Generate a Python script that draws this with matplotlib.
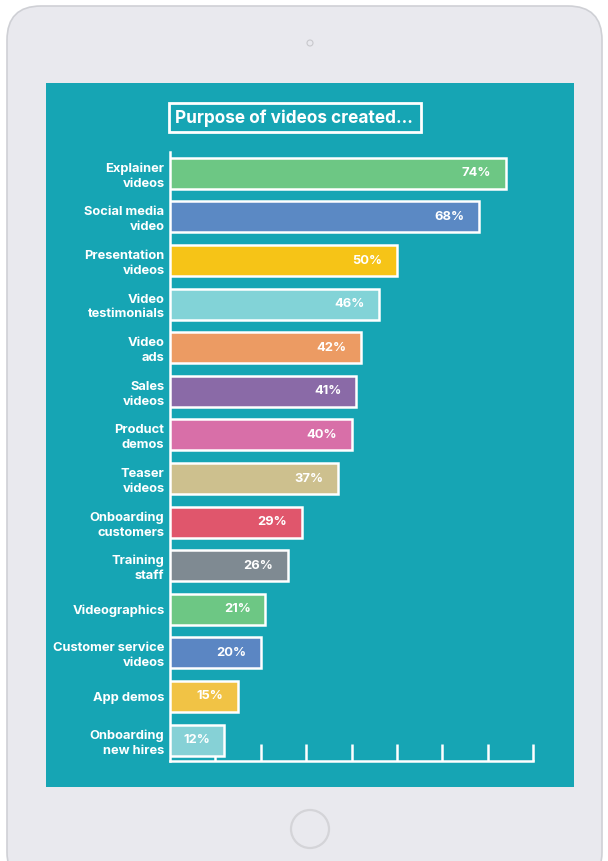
import matplotlib.pyplot as plt
from matplotlib.patches import FancyBboxPatch, Rectangle, Circle

# survey data: share of respondents per video purpose
purposes = ['Explainer\nvideos', 'Social media\nvideo', 'Presentation\nvideos', 'Video\ntestimonials',
            'Video\nads', 'Sales\nvideos', 'Product\ndemos', 'Teaser\nvideos', 'Onboarding\ncustomers',
            'Training\nstaff', 'Videographics', 'Customer service\nvideos', 'App demos', 'Onboarding\nnew hires']
shares = [74, 68, 50, 46, 42, 41, 40, 37, 29, 26, 21, 20, 15, 12]
bar_colors = ['#6dc784', '#5b89c4', '#f6c417', '#82d3d7', '#ec9b63', '#8a6aa7', '#d86fa8',
              '#cdc08e', '#e0566c', '#7f8a92', '#6dc784', '#5b86c3', '#f1c345', '#86d1d6']
x_ticks = [10, 20, 30, 40, 50, 60, 70, 80]

W, H = 608, 861
TEAL = '#16a5b4'
BODY = '#e9e9ee'
FONT = 'Inter'

fig = plt.figure(figsize=(W / 100, H / 100), dpi=100)
fig.patch.set_facecolor('white')

# tablet frame drawn in pixel coordinates
bg = fig.add_axes([0, 0, 1, 1])
bg.set_xlim(0, W)
bg.set_ylim(H, 0)
bg.axis('off')
bg.add_patch(FancyBboxPatch((7, 6), 595, 880, boxstyle='round,pad=0,rounding_size=34',
                            facecolor=BODY, edgecolor='#cfd0d5', linewidth=1.2))
bg.add_patch(Rectangle((46, 83), 528, 704, facecolor=TEAL, edgecolor='none'))
bg.add_patch(Circle((310, 43), 3, facecolor='none', edgecolor='#c8c8cc', linewidth=0.8))
bg.add_patch(Circle((310, 829), 19, facecolor='none', edgecolor='#d4d4d8', linewidth=1.6))

# title box
bg.add_patch(Rectangle((169, 103), 252, 29, facecolor='none', edgecolor='white', linewidth=2))
bg.text(175, 118, 'Purpose of videos created...', color='white', fontsize=12.4,
        fontweight='bold', family=FONT, va='center', ha='left')

# bar chart: x 0..80 spans px 170..533
ax = fig.add_axes([170 / W, (H - 761) / H, 363 / W, 609 / H])
ax.patch.set_alpha(0)
y = list(range(len(shares)))
ax.barh(y, shares, height=0.71, color=bar_colors, edgecolor='white', linewidth=1.8, zorder=3)
for yi, v in zip(y, shares):
    ax.annotate(f'{v}%', xy=(v, yi), xytext=(-10.5, 0), textcoords='offset points',
                ha='right', va='center', color='white', fontsize=9.3, fontweight='bold',
                family=FONT, zorder=4)

ax.set_xlim(0, 80)
ax.set_ylim(13.48, -0.49)
ax.set_yticks(y)
ax.set_yticklabels(purposes, color='white', fontsize=9.3, fontweight='bold', family=FONT,
                   multialignment='right', linespacing=1.3)
ax.tick_params(axis='y', length=0, pad=4)
ax.set_xticks(x_ticks)
ax.set_xticklabels([])
ax.tick_params(axis='x', direction='in', length=12.5, width=1.8, color='white')
for side in ['top', 'right']:
    ax.spines[side].set_visible(False)
for side in ['left', 'bottom']:
    ax.spines[side].set_color('white')
    ax.spines[side].set_linewidth(1.8)

fig.savefig('out.png', dpi=100)
